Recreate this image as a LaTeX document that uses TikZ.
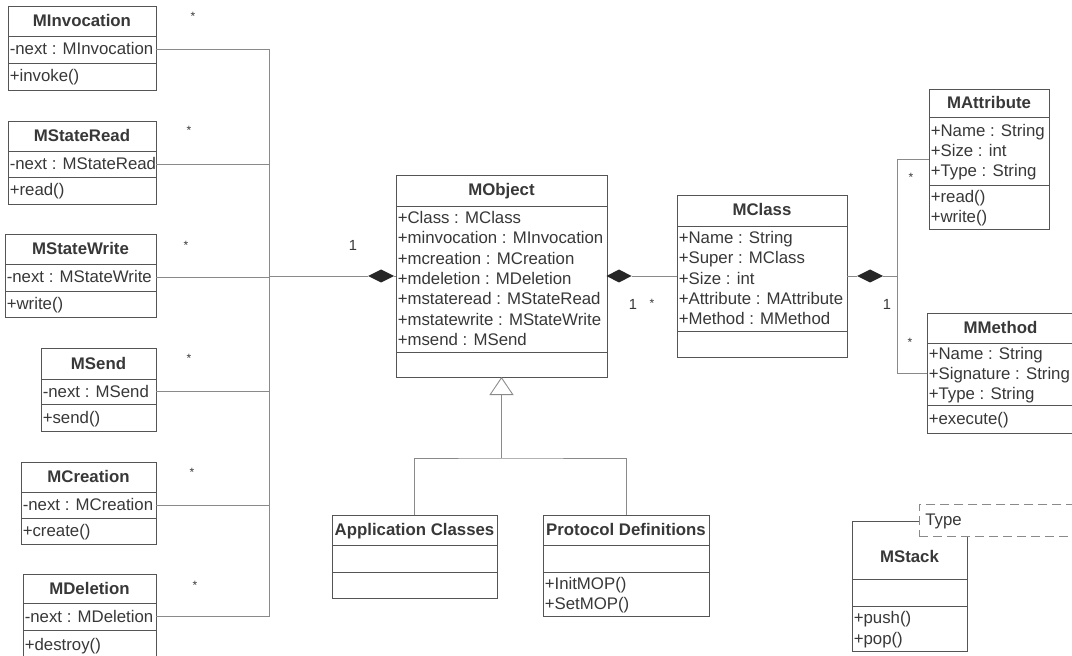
\documentclass[tikz,border=0pt]{standalone}
\usepackage{fontspec}
\setmainfont{Liberation Sans}
\usetikzlibrary{shapes.geometric,arrows.meta}

% one drawing unit
\newdimen\px \px=0.75pt

\definecolor{boxc}{HTML}{555555}
\definecolor{conc}{HTML}{8A8A8A}
\definecolor{txtc}{HTML}{383838}
\definecolor{diac}{HTML}{262626}

% uniform line box: height 11pt, depth 2.75pt
\newcommand\rl{\rule[-2.75pt]{0pt}{13.75pt}}
\def\ttlshift{0}

\tikzset{
  comp/.style={draw=boxc, line width=0.65pt, inner sep=0pt, outer sep=0pt, anchor=north west},
  ttl/.style={font=\fontsize{12.6}{15.2}\selectfont\bfseries, text=txtc, inner sep=0pt},
  txt/.style={font=\fontsize{12.6}{15.2}\selectfont, text=txtc, align=left, inner sep=0pt, anchor=west},
  conn/.style={draw=conc, line width=0.65pt},
  dia/.style={diamond, fill=diac, draw=none, inner sep=0pt, outer sep=0pt, minimum height=13\px},
  mult/.style={font=\fontsize{11}{12}\selectfont, text=txtc, inner sep=0pt},
  mstar/.style={font=\fontsize{9}{9}\selectfont, text=txtc, inner sep=0pt, anchor=base, yshift=-7\px},
}

% class box: name, x, y, width, title/attribute/operation heights, title, attributes
\newcommand\umlclass[9]{%
  \node[comp, minimum width=#4\px, minimum height=#5\px] (#1) at (#2,#3) {};
  \node[comp, minimum width=#4\px, minimum height=#6\px] (#1-a) at (#1.south west) {};
  \node[comp, minimum width=#4\px, minimum height=#7\px] (#1-o) at (#1-a.south west) {};
  \node[ttl] (#1-tt) at ([yshift=-\ttlshift\px]#1.center) {\rl#8};
  \node[txt] (#1-at) at ([xshift=1.5\px]#1-a.west) {#9};
}
% operations of a class box
\newcommand\umlops[2]{%
  \node[txt] (#1-ot) at ([xshift=1.5\px]#1-o.west) {#2};
}

\begin{document}
\begin{tikzpicture}[x=0.75pt, y=-0.75pt]
  \fill[white] (0,0) rectangle (1072,656);
  \useasboundingbox (0,0) rectangle (1072,656);

  % --- event classes on the left ---
  \umlclass{inv}{8}{6}{148}{30}{27}{27}{MInvocation}{\rl-next : MInvocation}
  \umlops{inv}{\rl+invoke()}
  \umlclass{srd}{8}{121}{148}{30}{26}{27}{MStateRead}{\rl-next : MStateRead}
  \umlops{srd}{\rl+read()}
  \umlclass{swr}{5}{234}{151}{30}{27}{26}{MStateWrite}{\rl-next : MStateWrite}
  \umlops{swr}{\rl+write()}
  \umlclass{snd}{41}{348}{115}{31}{25}{27}{MSend}{\rl-next : MSend}
  \umlops{snd}{\rl+send()}
  \umlclass{cre}{21}{462}{135}{30}{26}{26}{MCreation}{\rl-next : MCreation}
  \umlops{cre}{\rl+create()}
  \umlclass{del}{23}{574}{133}{29}{27}{30}{MDeletion}{\rl-next : MDeletion}
  \umlops{del}{\rl+destroy()}

  % --- core classes ---
  \umlclass{obj}{396}{175}{211}{31}{146}{25}{MObject}{%
    \rl+Class : MClass\\\rl+minvocation : MInvocation\\\rl+mcreation : MCreation\\%
    \rl+mdeletion : MDeletion\\\rl+mstateread : MStateRead\\%
    \rl+mstatewrite : MStateWrite\\\rl+msend : MSend}
  \umlclass{cls}{677}{195}{170}{31}{105}{26}{MClass}{%
    \rl+Name : String\\\rl+Super : MClass\\\rl+Size : int\\%
    \rl+Attribute : MAttribute\\\rl+Method : MMethod}
  \umlclass{att}{929}{89}{120}{28}{68}{44}{MAttribute}{%
    \rl+Name : String\\\rl+Size : int\\\rl+Type : String}
  \umlops{att}{\rl+read()\\\rl+write()}
  \umlclass{met}{927}{313}{147}{30}{62}{28}{MMethod}{%
    \rl+Name : String\\\rl+Signature : String\\\rl+Type : String}
  \umlops{met}{\rl+execute()}

  % --- subclasses ---
  \umlclass{app}{332}{515}{165}{30}{27}{26}{Application Classes}{}
  \umlclass{pro}{543}{515}{166}{30}{27}{44}{Protocol Definitions}{}
  \umlops{pro}{\rl+InitMOP()\\\rl+SetMOP()}

  % --- template class ---
  \def\ttlshift{7}
  \umlclass{stk}{852}{521}{115}{58}{27}{45}{MStack}{}
  \def\ttlshift{0}
  \umlops{stk}{\rl+push()\\\rl+pop()}
  \node[draw=conc, dash pattern=on 6.75pt off 3.75pt, fill=white, line width=0.65pt,
        inner sep=0pt, anchor=north west, minimum width=160\px, minimum height=32\px]
        (tpar) at (919,504) {};
  \node[txt] (tpar-t) at ([xshift=6\px]tpar.west) {\rl Type};

  % --- composition from the event classes ---
  \coordinate (jL) at (269,276);
  \foreach \c in {inv,srd,swr,snd,cre,del}
    \draw[conn] (\c-a.east) -- (\c-a.east -| jL);
  \draw[conn] (inv-a.east -| jL) -- (del-a.east -| jL);
  \node[dia, minimum width=26\px] (dL) at (381,276) {};
  \draw[conn] (jL) -- (dL.west);
  \draw[conn] (dL.east) -- (dL.east -| obj-a.west);

  % --- MObject to MClass ---
  \node[dia, minimum width=25\px] (dM) at (619,276) {};
  \draw[conn] (dM.east) -- (dM.east -| cls-a.west);

  % --- MClass to MAttribute / MMethod ---
  \node[dia, minimum width=26\px] (dC) at (870,276) {};
  \coordinate (jR) at (897,276);
  \coordinate (jRa) at (897,159);
  \coordinate (jRm) at (897,373);
  \draw[conn] (dC.west -| cls-a.east) -- (dC.west);
  \draw[conn] (dC.east) -- (jR);
  \draw[conn] (jRa -| att-a.west) -- (jRa) -- (jRm) -- (jRm -| met-a.west);

  % --- generalization ---
  \coordinate (gj) at (obj-o.south |- 0,458);
  \draw[conn] (app.north) |- (gj) -| (pro.north);
  \draw[conn, -{Triangle[open, length=13.5pt, width=18pt]}] (gj) -- (obj-o.south);

  % --- multiplicities ---
  \node[mult] (mL) at (353,245) {1};
  \node[mstar] (s1) at (193,14) {*};
  \node[mstar] (s2) at (189,128) {*};
  \node[mstar] (s3) at (186,243) {*};
  \node[mstar] (s4) at (189,356) {*};
  \node[mstar] (s5) at (192,469) {*};
  \node[mstar] (s6) at (195,582) {*};
  \node[mult] (mM) at (633,304) {1};
  \node[mstar] (s7) at (652,301) {*};
  \node[mstar] (s8) at (911,175) {*};
  \node[mult] (mC) at (887,304) {1};
  \node[mstar] (s9) at (910,339) {*};
\end{tikzpicture}
\end{document}
